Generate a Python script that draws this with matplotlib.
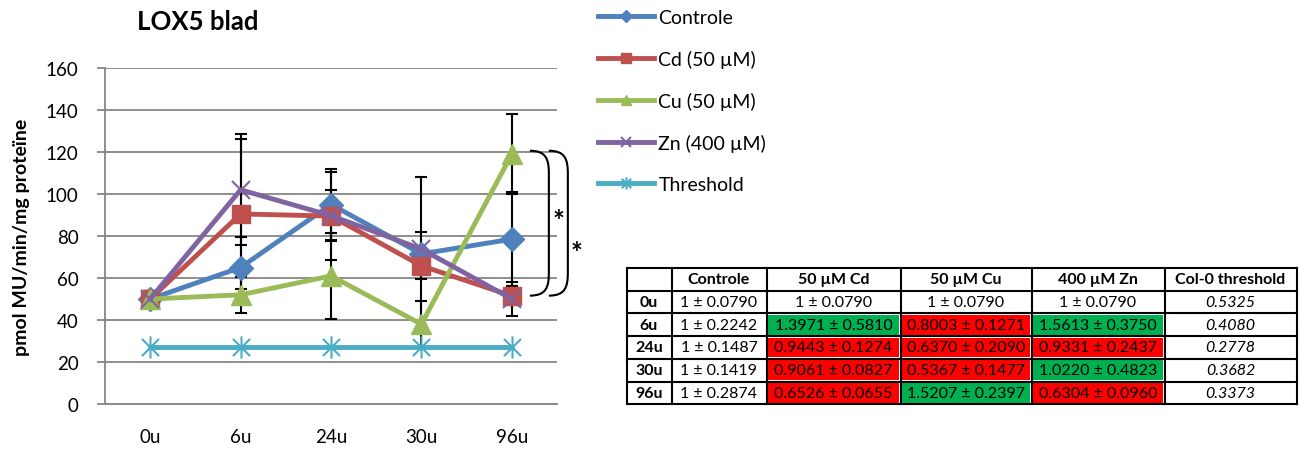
import matplotlib.pyplot as plt
from matplotlib.path import Path
from matplotlib.patches import PathPatch, Rectangle

plt.rcParams['font.family'] = ['Lato', 'DejaVu Sans']

# chart data
tijden = ['0u', '6u', '24u', '30u', '96u']
controle = [50, 65, 95, 71.5, 78.5]
controle_sd = [4, 14.5, 17, 36.5, 22.3]
cd = [50, 90.5, 89.5, 65.8, 51.5]
cd_sd = [4, 35.5, 21, 6.3, 4.5]
cu = [50, 52, 61, 38, 119]
cu_sd = [4, 8.5, 20.3, 11, 19]
zn = [50, 102, 89.7, 73.8, 50]
zn_sd = [4, 26.5, 12.3, 8.2, 8]
threshold = [27, 27, 27, 27, 27]

# table data
tabel_kop = ['', 'Controle', '50 µM Cd', '50 µM Cu', '400 µM Zn', 'Col-0 threshold']
tabel_rijen = ['0u', '6u', '24u', '30u', '96u']
tabel_controle = ['1 ± 0.0790', '1 ± 0.2242', '1 ± 0.1487', '1 ± 0.1419', '1 ± 0.2874']
tabel_cd = ['1 ± 0.0790', '1.3971 ± 0.5810', '0.9443 ± 0.1274', '0.9061 ± 0.0827', '0.6526 ± 0.0655']
tabel_cu = ['1 ± 0.0790', '0.8003 ± 0.1271', '0.6370 ± 0.2090', '0.5367 ± 0.1477', '1.5207 ± 0.2397']
tabel_zn = ['1 ± 0.0790', '1.5613 ± 0.3750', '0.9331 ± 0.2437', '1.0220 ± 0.4823', '0.6304 ± 0.0960']
tabel_thr = ['0.5325', '0.4080', '0.2778', '0.3682', '0.3373']
# '' = no change, 'up' = green, 'down' = red
status_cd = ['', 'up', 'down', 'down', 'down']
status_cu = ['', 'down', 'down', 'down', 'up']
status_zn = ['', 'up', 'down', 'up', 'down']

W, H = 1304, 452
fig = plt.figure(figsize=(W / 100, H / 100), dpi=100)
ax = fig.add_axes([105 / W, 1 - 405 / H, (557 - 105) / W, (405 - 69) / H])

x = list(range(len(tijden)))
grijs = '#868686'

series = [
    (controle, controle_sd, 'Controle', '#4F81BD', 'D', 12),
    (cd, cd_sd, 'Cd (50 µM)', '#C0504D', 's', 12.5),
    (cu, cu_sd, 'Cu (50 µM)', '#9BBB59', '^', 14),
    (zn, zn_sd, 'Zn (400 µM)', '#8064A2', 'x', 13),
]

for vals, sd, lab, col, m, ms in series:
    ax.errorbar(x, vals, yerr=sd, fmt='none', ecolor='black', elinewidth=1.5,
                capsize=4, capthick=1.5, zorder=2)

handles = []
for vals, sd, lab, col, m, ms in series:
    mew = 1.5 if m == 'x' else 1
    h, = ax.plot(x, vals, color=col, lw=3.5, marker=m, markersize=ms,
                 markeredgewidth=mew, label=lab, zorder=3)
    handles.append(h)

ster = Path([(-1, -1), (1, 1), (-1, 1), (1, -1), (0, -1.3), (0, 1.3)],
            [Path.MOVETO, Path.LINETO, Path.MOVETO, Path.LINETO, Path.MOVETO, Path.LINETO])
h, = ax.plot(x, threshold, color='#4BACC6', lw=3.5, marker=ster, markersize=16,
             markeredgewidth=1.5, label='Threshold', zorder=3)
handles.append(h)

ax.set_xlim(-0.5, len(tijden) - 0.5)
ax.set_ylim(0, 160)
ax.set_yticks(range(0, 161, 20))
ax.set_xticks(x)
ax.set_xticklabels(tijden)
ax.grid(axis='y', color=grijs, lw=1.3)
ax.set_axisbelow(True)
for s in ['top', 'right']:
    ax.spines[s].set_visible(False)
for s in ['left', 'bottom']:
    ax.spines[s].set_color(grijs)
    ax.spines[s].set_linewidth(1.3)
ax.tick_params(axis='y', length=6, color=grijs, width=1.3, labelsize=13.5, pad=13)
ax.tick_params(axis='x', length=0, labelsize=13.5, pad=17)
ax.set_ylabel('pmol MU/min/mg proteïne', fontsize=14, fontweight='bold')
ax.yaxis.set_label_coords(-0.165, 0.5)

fig.text(198 / W, 1 - 22 / H, 'LOX5 blad', ha='center', va='center',
         fontsize=18.5, fontweight='bold')

# significance brackets
for x0, x1 in [(4.2, 4.41), (4.41, 4.62)]:
    yt, yb = 120.6, 51.6
    p = Path([(x0, yt), (x1 - 0.03, yt), (x1, yt - 4), (x1, yt - 11),
              (x1, yb + 11), (x1, yb + 4), (x1 - 0.03, yb), (x0, yb)],
             [Path.MOVETO, Path.CURVE4, Path.CURVE4, Path.CURVE4,
              Path.LINETO, Path.CURVE4, Path.CURVE4, Path.CURVE4])
    ax.add_patch(PathPatch(p, fill=False, lw=1.5, color='black', clip_on=False))
ax.text(4.52, 87, '*', fontsize=20, fontweight='bold', ha='center', va='center', clip_on=False)
ax.text(4.71, 72, '*', fontsize=20, fontweight='bold', ha='center', va='center', clip_on=False)

fig.legend(handles=[h for h in handles], loc='upper left',
           bbox_to_anchor=(598 / W, 1 - 10 / H), frameon=False, fontsize=14,
           labelspacing=1.23, handlelength=2.9, handletextpad=0.2,
           borderpad=0, borderaxespad=0, markerscale=0.55)

# table
tx0, ty0 = 626.5, 269
colw = [45, 95, 134, 131, 133, 132]
rowh = 22.7
tab = fig.add_axes([tx0 / W, 1 - (ty0 + 6 * rowh) / H, sum(colw) / W, 6 * rowh / H])
tab.set_xlim(0, sum(colw))
tab.set_ylim(6 * rowh, 0)
tab.axis('off')

kleuren = {'': None, 'up': '#00B050', 'down': '#FF0000'}
kolommen = [tabel_rijen, tabel_controle, tabel_cd, tabel_cu, tabel_zn, tabel_thr]
statussen = [None, None, status_cd, status_cu, status_zn, None]
xs = [sum(colw[:i]) for i in range(len(colw) + 1)]

for c in range(len(colw)):
    tab.text((xs[c] + xs[c + 1]) / 2, rowh / 2, tabel_kop[c], ha='center', va='center',
             fontsize=11.5, fontweight='bold')
    for r in range(5):
        y0 = (r + 1) * rowh
        st = statussen[c]
        if st is not None and kleuren[st[r]]:
            tab.add_patch(Rectangle((xs[c] + 1.5, y0 + 1.5), colw[c] - 3, rowh - 3,
                                    color=kleuren[st[r]], lw=0))
        kw = dict(ha='center', va='center', fontsize=11.5)
        if c == 0:
            kw['fontweight'] = 'bold'
        if c == 5:
            kw['fontstyle'] = 'italic'
        tab.text((xs[c] + xs[c + 1]) / 2, y0 + rowh / 2, kolommen[c][r], **kw)

for xv in xs:
    tab.plot([xv, xv], [0, 6 * rowh], color='black', lw=1.5, clip_on=False)
for r in range(7):
    tab.plot([0, sum(colw)], [r * rowh, r * rowh], color='black', lw=1.5, clip_on=False)

fig.savefig('out.png', dpi=100)
